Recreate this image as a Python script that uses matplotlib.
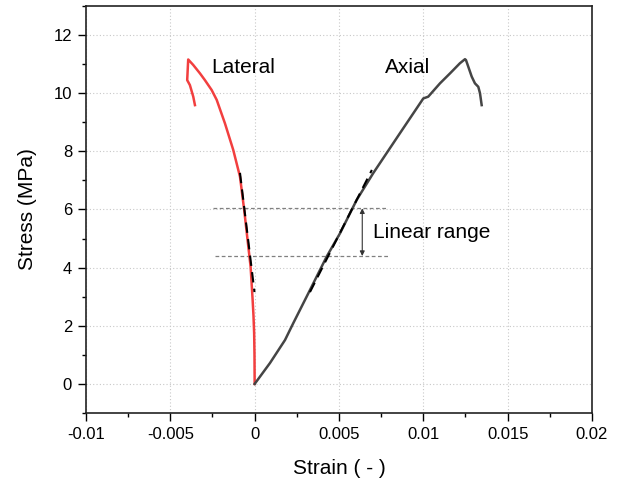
import matplotlib
matplotlib.use("Agg")
import matplotlib.pyplot as plt
from matplotlib.ticker import MultipleLocator, FuncFormatter

plt.rcParams['font.family'] = ['Liberation Sans', 'DejaVu Sans']

# Lateral strain curve (red)
lateral_strain = [0.0, -0.00001, -0.00003, -0.00007, -0.00012, -0.00024, -0.00042, -0.00062, -0.00087,
                  -0.00127, -0.00176, -0.00225, -0.00255, -0.00295, -0.00324,
                  -0.00364, -0.00394, -0.0040, -0.00384, -0.00364, -0.00354]
lateral_stress = [0.0, 1.0, 1.74, 2.35, 2.89, 4.03, 4.95, 5.98, 7.13,
                  8.05, 8.96, 9.77, 10.11, 10.45, 10.68,
                  10.97, 11.16, 10.45, 10.28, 9.88, 9.59]

# Axial strain curve (dark gray)
axial_strain = [0.0, 0.00091, 0.0018, 0.00229, 0.00328, 0.00427, 0.00506, 0.00605,
                0.00703, 0.00861, 0.0100, 0.01029, 0.01099, 0.01158, 0.01217,
                0.01247, 0.01253, 0.01287, 0.01306, 0.01326, 0.01336, 0.01346]
axial_stress = [0.0, 0.72, 1.51, 2.09, 3.23, 4.38, 5.18, 6.33,
                7.25, 8.62, 9.82, 9.88, 10.34, 10.68, 11.03,
                11.17, 11.14, 10.57, 10.34, 10.22, 10.0, 9.59]

# Linear fits (dashed)
lat_fit_strain = [-0.00087, -0.00001]
lat_fit_stress = [7.26, 3.16]
ax_fit_strain = [0.00328, 0.00695]
ax_fit_stress = [3.16, 7.36]

# Linear range bounds
range_upper = 6.04
range_lower = 4.40
range_x_upper = [-0.00247, 0.00784]
range_x_lower = [-0.00236, 0.00802]
arrow_x = 0.00638

fig = plt.figure(figsize=(6.2, 4.79), dpi=100)
ax = fig.add_axes([0.1387, 0.1378, 0.8161, 0.8497])

ax.grid(True, which='major', color='#c8c8c8', linestyle=(0, (1, 2)), linewidth=0.8)
ax.set_axisbelow(True)

ax.plot(range_x_upper, [range_upper, range_upper], color='#808080', linestyle=(0, (3, 2)), linewidth=0.9)
ax.plot(range_x_lower, [range_lower, range_lower], color='#808080', linestyle=(0, (3, 2)), linewidth=0.9)
ax.annotate('', xy=(arrow_x, range_upper), xytext=(arrow_x, range_lower),
            arrowprops=dict(arrowstyle='<|-|>', color='#333333', lw=0.8,
                            mutation_scale=7, shrinkA=0, shrinkB=0))

ax.plot(lateral_strain, lateral_stress, color='#f23f3f', linewidth=1.8)
ax.plot(axial_strain, axial_stress, color='#454545', linewidth=1.8)
ax.plot(lat_fit_strain, lat_fit_stress, color='black', linestyle=(0, (5, 3)), linewidth=1.5)
ax.plot(ax_fit_strain, ax_fit_stress, color='black', linestyle=(0, (5, 3)), linewidth=1.5)

ax.text(-0.00258, 10.9, 'Lateral', fontsize=15, va='center', ha='left')
ax.text(0.0077, 10.9, 'Axial', fontsize=15, va='center', ha='left')
ax.text(0.0070, 5.22, 'Linear range', fontsize=15, va='center', ha='left')

ax.set_xlim(-0.01, 0.02)
ax.set_ylim(-1, 13)
ax.xaxis.set_major_locator(MultipleLocator(0.005))
ax.xaxis.set_minor_locator(MultipleLocator(0.0025))
ax.yaxis.set_major_locator(MultipleLocator(2))
ax.yaxis.set_minor_locator(MultipleLocator(1))

def xfmt(v, pos):
    if abs(v) < 1e-12:
        return '0'
    s = ('%.3f' % v).rstrip('0').rstrip('.')
    return s
ax.xaxis.set_major_formatter(FuncFormatter(xfmt))

ax.tick_params(which='major', direction='out', length=6, width=1.0, labelsize=12, pad=4)
ax.tick_params(which='minor', direction='out', length=3, width=1.0)
ax.tick_params(top=False, right=False, which='both')
for sp in ax.spines.values():
    sp.set_linewidth(1.2)
    sp.set_color('#222222')

ax.set_xlabel('Strain ( - )', fontsize=15, labelpad=12)
ax.set_ylabel('Stress (MPa)', fontsize=15, labelpad=12)

fig.savefig('out.png', dpi=100)
